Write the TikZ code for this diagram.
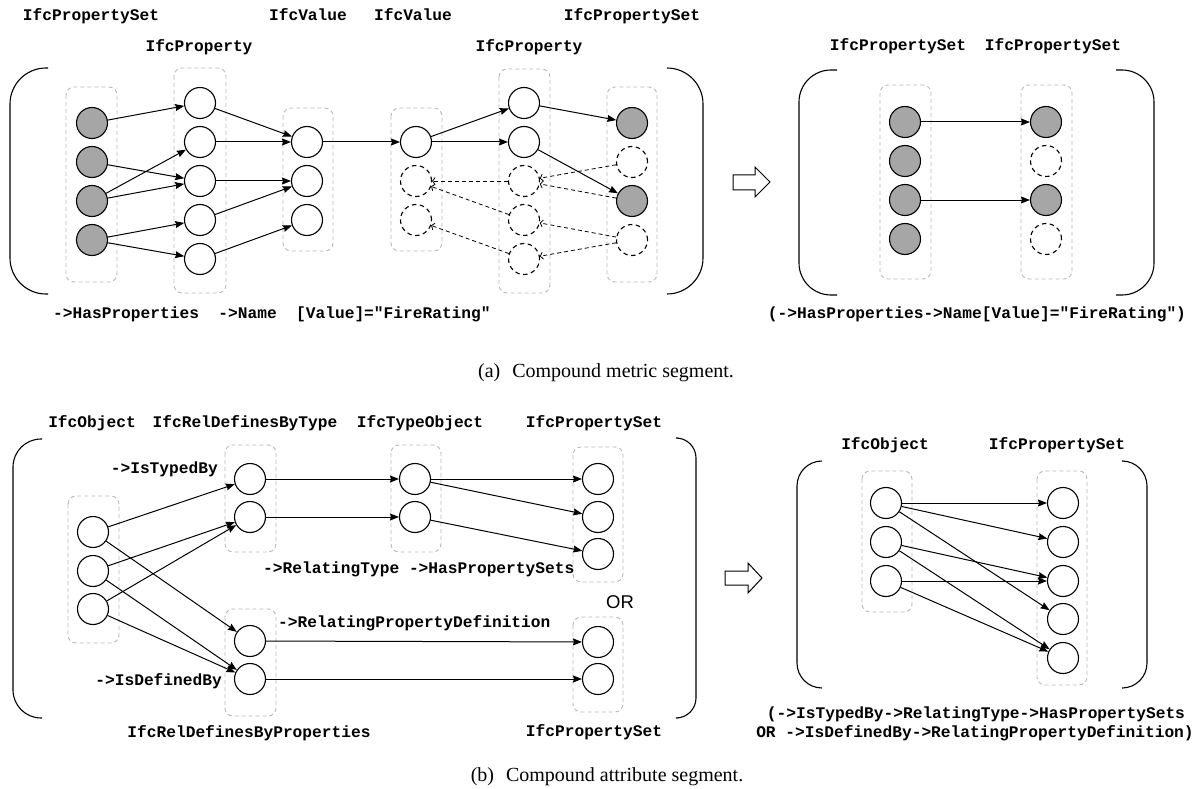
\documentclass[tikz,border=0pt]{standalone}
\usepackage{fontspec}
\setmainfont{Liberation Serif}
\newfontfamily\courfam{Liberation Mono}
\newfontfamily\orfam{Liberation Sans}
\usetikzlibrary{arrows.meta}
\definecolor{fillgray}{RGB}{166,166,166}
\definecolor{grpgray}{RGB}{185,185,185}

\begin{document}
\begin{tikzpicture}[x=1pt,y=-1pt,
  grp/.style={draw=grpgray, dash pattern=on 4pt off 3pt, rounded corners=8pt, line width=0.9pt},
  nd/.style={circle, draw, line width=1.1pt, minimum size=31pt, inner sep=0pt, fill=white},
  fnd/.style={nd, fill=fillgray},
  dnd/.style={nd, dash pattern=on 4.5pt off 3.5pt},
  arr/.style={-{Stealth[length=9pt,width=7pt,inset=1pt]}, line width=1pt},
  darr/.style={dash pattern=on 4pt off 3pt, line width=0.8pt, -{Straight Barb[length=2.5pt,width=7pt]}},
  lbl/.style={font=\courfam\bfseries\fontsize{16.2}{19}\selectfont, inner sep=0pt, text height=11pt, text depth=3pt},
  brk/.style={line width=1.1pt},
  bigarrow/.style={line width=1pt, fill=white},
  captxt/.style={font=\fontsize{20}{24}\selectfont, inner sep=0pt}
]
\fill[white] (0,0) rectangle (1200,789);
\useasboundingbox (0,0) rectangle (1200,789);

% ================= (a) compound metric segment =================
% brackets
\draw[brk, rounded corners=36pt] (48,68) -- (10,68) -- (10,294) -- (48,294);
\draw[brk, rounded corners=36pt] (667,68) -- (703,68) -- (703,294) -- (667,294);
\draw[brk, rounded corners=32pt] (837,70) -- (799,70) -- (799,295) -- (837,295);
\draw[brk, rounded corners=32pt] (1116,70) -- (1154,70) -- (1154,295) -- (1116,295);

% column groups
\draw[grp] (66,87) rectangle (117,282);
\draw[grp] (174,68) rectangle (226,293);
\draw[grp] (283,108) rectangle (333,251);
\draw[grp] (391,108) rectangle (442,251);
\draw[grp] (499,69) rectangle (550,293);
\draw[grp] (607,87) rectangle (657,282);
\draw[grp] (880,85) rectangle (931,279);
\draw[grp] (1021,85) rectangle (1072,279);

% column headers
\node[lbl] (ha1) at (91,17) {IfcPropertySet};
\node[lbl] (ha2) at (199,48) {IfcProperty};
\node[lbl] (ha3) at (308,17) {IfcValue};
\node[lbl] (ha4) at (413,17) {IfcValue};
\node[lbl] (ha5) at (529,48) {IfcProperty};
\node[lbl] (ha6) at (632,17) {IfcPropertySet};
\node[lbl] (ha7) at (898,47) {IfcPropertySet};
\node[lbl] (ha8) at (1053,47) {IfcPropertySet};

% property sets (left)
\node[fnd] (g1) at (92,123) {};
\node[fnd] (g2) at (92,162) {};
\node[fnd] (g3) at (92,201) {};
\node[fnd] (g4) at (92,240) {};
% properties
\node[nd] (p1) at (200,103) {};
\node[nd] (p2) at (200,142) {};
\node[nd] (p3) at (200,181) {};
\node[nd] (p4) at (200,220) {};
\node[nd] (p5) at (200,259) {};
% values
\node[nd] (v1) at (307,142) {};
\node[nd] (v2) at (307,181) {};
\node[nd] (v3) at (307,220) {};
% values (second)
\node[nd] (w1) at (416,142) {};
\node[dnd] (w2) at (416,181) {};
\node[dnd] (w3) at (416,220) {};
% properties (second)
\node[nd] (q1) at (524,103) {};
\node[nd] (q2) at (524,142) {};
\node[dnd] (q3) at (524,181) {};
\node[dnd] (q4) at (524,220) {};
\node[dnd] (q5) at (524,259) {};
% property sets (right)
\node[fnd] (s1) at (632,123) {};
\node[dnd] (s2) at (632,162) {};
\node[fnd] (s3) at (632,201) {};
\node[dnd] (s4) at (632,240) {};

\draw[arr] (g1) -- (p1);
\draw[arr] (g2) -- (p3);
\draw[arr] (g3) -- (p2);
\draw[arr] (g3) -- (p3);
\draw[arr] (g4) -- (p4);
\draw[arr] (g4) -- (p5);
\draw[arr] (p1) -- (v1);
\draw[arr] (p2) -- (v1);
\draw[arr] (p3) -- (v2);
\draw[arr] (p4) -- (v2);
\draw[arr] (p5) -- (v3);
\draw[arr] (v1) -- (w1);
\draw[arr] (w1) -- (q1);
\draw[arr] (w1) -- (q2);
\draw[arr] (q1) -- (s1);
\draw[arr] (q2) -- (s3);
\draw[darr] (s2) -- (q3);
\draw[darr] (s3) -- (q3);
\draw[darr] (s4) -- (q4);
\draw[darr] (s4) -- (q5);
\draw[darr] (q3) -- (w2);
\draw[darr] (q4) -- (w2);
\draw[darr] (q5) -- (w3);

\node[lbl, anchor=west] (pa) at (53,314) {->HasProperties\ \ ->Name\ \ [Value]="FireRating"};

% simplified result
\draw[bigarrow] (733,175) -- (755,175) -- (755,167) -- (770,182) -- (755,197) -- (755,190) -- (733,190) -- cycle;
\node[fnd] (l1) at (905,122) {};
\node[fnd] (l2) at (905,161) {};
\node[fnd] (l3) at (905,200) {};
\node[fnd] (l4) at (905,239) {};
\node[fnd] (r1) at (1046,122) {};
\node[dnd] (r2) at (1046,161) {};
\node[fnd] (r3) at (1046,200) {};
\node[dnd] (r4) at (1046,239) {};
\draw[arr] (l1) -- (r1);
\draw[arr] (l3) -- (r3);
\node[lbl] (pb) at (977,314) {(->HasProperties->Name[Value]="FireRating")};

\node[captxt] (capa) at (606,373) {(a)\hspace{0.6em}Compound metric segment.};

% ================= (b) compound attribute segment =================
\draw[brk, rounded corners=28pt] (42,439) -- (13,439) -- (13,718) -- (42,718);
\draw[brk, rounded corners=20pt] (678,438) -- (696,438) -- (696,718) -- (678,718);
\draw[brk, rounded corners=25pt] (822,461) -- (797,461) -- (797,688) -- (822,688);
\draw[brk, rounded corners=25pt] (1123,461) -- (1147,461) -- (1147,688) -- (1123,688);

\draw[grp] (68,496) rectangle (119,643);
\draw[grp] (225,445) rectangle (276,552);
\draw[grp] (225,609) rectangle (276,716);
\draw[grp] (391,445) rectangle (441,552);
\draw[grp] (573,447) rectangle (623,582);
\draw[grp] (573,617) rectangle (623,712);
\draw[grp] (862,471) rectangle (912,612);
\draw[grp] (1037,471) rectangle (1087,685);

\node[lbl] (hb1) at (92,423) {IfcObject};
\node[lbl] (hb2) at (245,423) {IfcRelDefinesByType};
\node[lbl] (hb3) at (420,423) {IfcTypeObject};
\node[lbl] (hb4) at (594,423) {IfcPropertySet};
\node[lbl] (hb5) at (249,733) {IfcRelDefinesByProperties};
\node[lbl] (hb6) at (594,732) {IfcPropertySet};
\node[lbl] (hb7) at (885,445) {IfcObject};
\node[lbl] (hb8) at (1057,445) {IfcPropertySet};

\node[nd] (o1) at (93,532) {};
\node[nd] (o2) at (93,571) {};
\node[nd] (o3) at (93,609) {};
\node[nd] (t1) at (250,479) {};
\node[nd] (t2) at (250,517) {};
\node[nd] (d1) at (250,641) {};
\node[nd] (d2) at (250,679) {};
\node[nd] (to1) at (415,479) {};
\node[nd] (to2) at (415,517) {};
\node[nd] (ps1) at (598,479) {};
\node[nd] (ps2) at (598,517) {};
\node[nd] (ps3) at (598,554) {};
\node[nd] (pb1) at (598,642) {};
\node[nd] (pb2) at (598,679) {};

\draw[arr] (o1) -- (t1);
\draw[arr] (o1) -- (d1);
\draw[arr] (o2) -- (t2);
\draw[arr] (o2) -- (d2);
\draw[arr] (o3) -- (t2);
\draw[arr] (o3) -- (d2);
\draw[arr] (t1) -- (to1);
\draw[arr] (t2) -- (to2);
\draw[arr] (to1) -- (ps1);
\draw[arr] (to1) -- (ps2);
\draw[arr] (to2) -- (ps3);
\draw[arr] (d1) -- (pb1);
\draw[arr] (d2) -- (pb2);

\node[lbl, anchor=east] (rl1) at (218,469) {->IsTypedBy};
\node[lbl, anchor=east] (rl2) at (222,681) {->IsDefinedBy};
\node[lbl, anchor=west] (rl3) at (263,569) {->RelatingType ->HasPropertySets};
\node[lbl, anchor=west] (rl4) at (278,623) {->RelatingPropertyDefinition};
\node[font=\orfam\fontsize{18.5}{22}\selectfont, inner sep=0pt] (orl) at (620,602) {OR};

% simplified result
\draw[bigarrow] (725,571) -- (748,571) -- (748,563) -- (762,578) -- (748,593) -- (748,585) -- (725,585) -- cycle;
\node[nd] (a1) at (886,503) {};
\node[nd] (a2) at (886,542) {};
\node[nd] (a3) at (886,581) {};
\node[nd] (b1) at (1063,503) {};
\node[nd] (b2) at (1063,542) {};
\node[nd] (b3) at (1063,581) {};
\node[nd] (b4) at (1063,619) {};
\node[nd] (b5) at (1063,658) {};
\draw[arr] (a1) -- (b1);
\draw[arr] (a1) -- (b2);
\draw[arr] (a1) -- (b4);
\draw[arr] (a2) -- (b3);
\draw[arr] (a2) -- (b5);
\draw[arr] (a3) -- (b3);
\draw[arr] (a3) -- (b5);
\node[lbl] (pc1) at (976,714) {(->IsTypedBy->RelatingType->HasPropertySets};
\node[lbl] (pc2) at (975,733) {OR ->IsDefinedBy->RelatingPropertyDefinition)};

\node[captxt] (capb) at (607,777) {(b)\hspace{0.6em}Compound attribute segment.};
\end{tikzpicture}
\end{document}
